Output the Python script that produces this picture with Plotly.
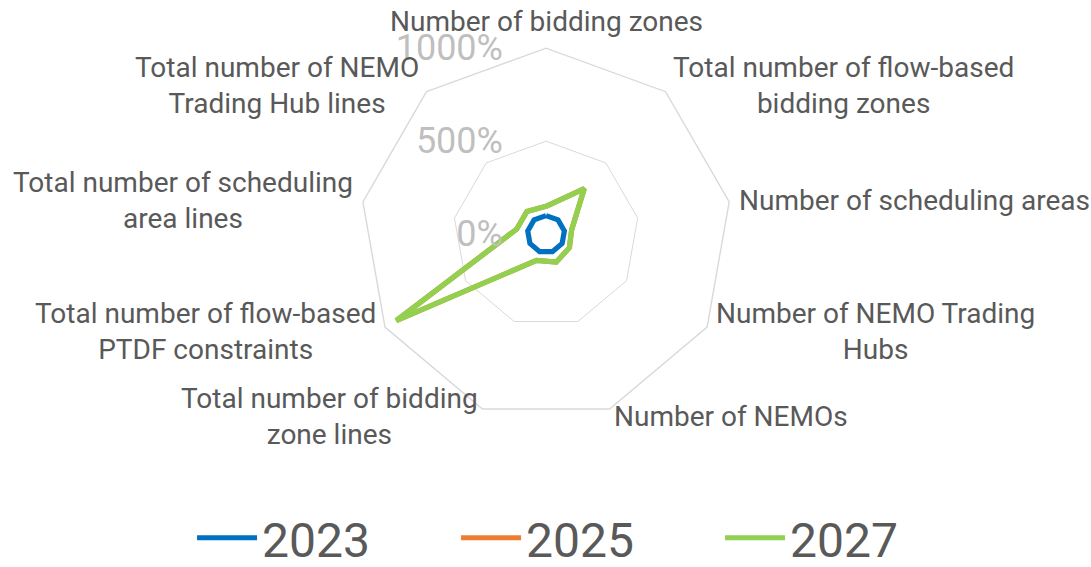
import math
import plotly.graph_objects as go

# Indicator categories (clockwise from the top of the radar)
categories = [
    "Number of bidding zones",
    "Total number of flow-based<br>bidding zones",
    "Number of scheduling areas",
    "Number of NEMO Trading<br>Hubs",
    "Number of NEMOs",
    "Total number of bidding<br>zone lines",
    "Total number of flow-based<br>PTDF constraints",
    "Total number of scheduling<br>area lines",
    "Total number of NEMO<br>Trading Hub lines",
]

# Values relative to 2023 (1.0 = 100 %)
values_2023 = [1.0, 1.0, 1.0, 1.0, 1.0, 1.0, 1.0, 1.0, 1.0]
values_2025 = [1.5, 3.2, 1.4, 1.45, 1.6, 1.5, 9.3, 1.6, 1.6]
values_2027 = [1.5, 3.2, 1.4, 1.45, 1.6, 1.5, 9.3, 1.6, 1.6]

years = ["2023", "2025", "2027"]
colors = ["#0070C0", "#ED7D31", "#92D050"]
series = [values_2023, values_2025, values_2027]

W, H = 1091, 567
dom_x = [0.330, 0.671]
dom_y = [0.259, 0.915]

fig = go.Figure()
for name, vals, col in zip(years, series, colors):
    fig.add_trace(go.Scatterpolar(
        r=vals + vals[:1],
        theta=categories + categories[:1],
        mode="lines",
        name=name,
        line=dict(color=col, width=5.2),
    ))

# Category labels: centred multi-line text anchored just outside each spoke
cx = (dom_x[0] + dom_x[1]) / 2
cy = (dom_y[0] + dom_y[1]) / 2
radius_px = min((dom_x[1] - dom_x[0]) * W, (dom_y[1] - dom_y[0]) * H) / 2
label_r = radius_px + 8
n = len(categories)
for i, cat in enumerate(categories):
    ang = 2 * math.pi * i / n
    s, c = math.sin(ang), math.cos(ang)
    if abs(s) < 0.1:
        xa, ya = "center", ("bottom" if c > 0 else "top")
    else:
        xa, ya = ("left" if s > 0 else "right"), "middle"
    fig.add_annotation(
        x=cx + label_r * s / W,
        y=cy + label_r * c / H,
        xref="paper", yref="paper",
        text=cat,
        showarrow=False,
        xanchor=xa, yanchor=ya,
        align="center",
        font=dict(family="Roboto", size=28, color="#595959"),
    )

fig.update_layout(
    width=W,
    height=H,
    margin=dict(l=0, r=0, t=0, b=0, autoexpand=False),
    paper_bgcolor="white",
    plot_bgcolor="white",
    font=dict(family="Roboto", color="#595959"),
    polar=dict(
        domain=dict(x=dom_x, y=dom_y),
        gridshape="linear",
        bgcolor="white",
        radialaxis=dict(
            range=[0, 10],
            tickvals=[0, 5, 10],
            tickformat=".0%",
            angle=90,
            tickangle=90,
            side="counterclockwise",
            showline=False,
            gridcolor="#d9d9d9",
            gridwidth=1.4,
            ticks="outside",
            ticklen=30,
            tickcolor="rgba(0,0,0,0)",
            tickfont=dict(size=36, color="#bfbfbf"),
        ),
        angularaxis=dict(
            direction="clockwise",
            rotation=90,
            showgrid=False,
            showline=True,
            showticklabels=False,
            ticks="",
            linecolor="#d9d9d9",
            linewidth=1.4,
        ),
    ),
    legend=dict(
        orientation="h",
        x=0.539,
        xanchor="center",
        y=-0.016,
        yanchor="bottom",
        font=dict(size=48, color="#595959"),
        entrywidth=189,
        itemwidth=60,
    ),
)

fig.write_html("out.html")
